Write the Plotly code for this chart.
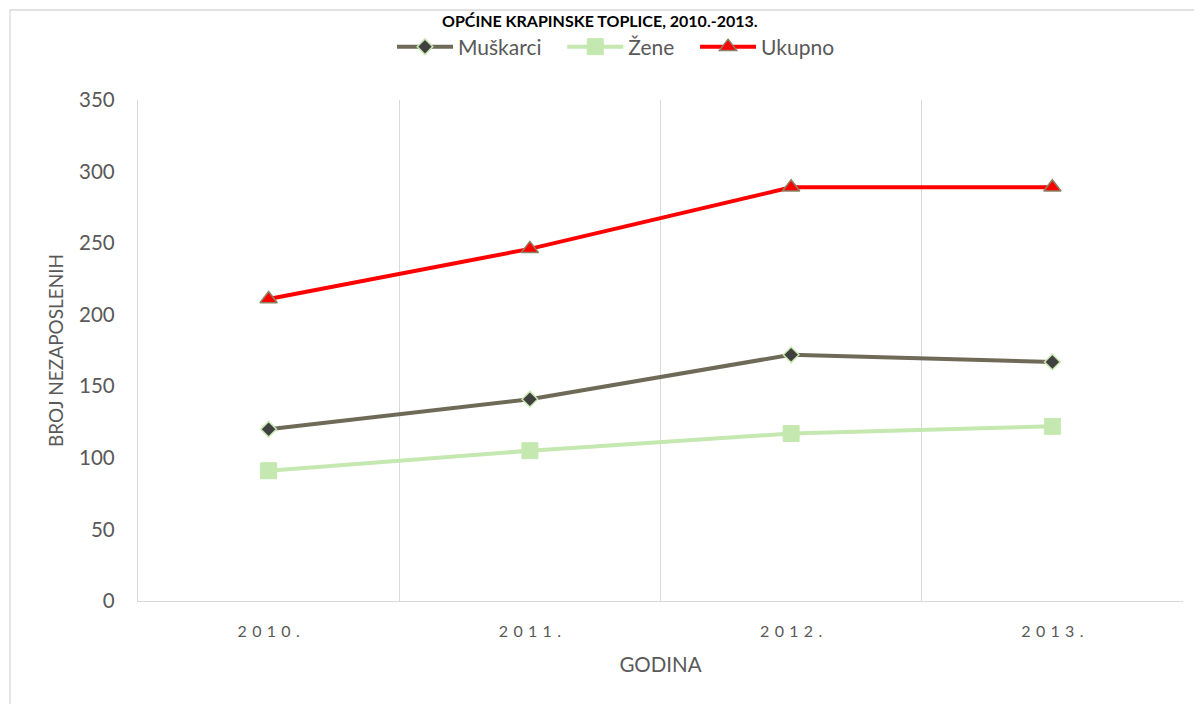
import plotly.graph_objects as go

godine = ["2010.", "2011.", "2012.", "2013."]
muskarci = [120, 141, 172, 167]
zene = [91, 105, 117, 122]
ukupno = [211, 246, 289, 289]
y_ticks = [0, 50, 100, 150, 200, 250, 300, 350]
naslov = "OPĆINE KRAPINSKE TOPLICE, 2010.-2013."

spaced = ["\u2004".join(list(g)) for g in godine]

fig = go.Figure()
fig.add_trace(go.Scatter(
    x=spaced, y=muskarci, name="Muškarci\u2003", mode="lines+markers",
    line=dict(color="#6f6a58", width=4),
    marker=dict(symbol="diamond", size=12, color="#404040",
                line=dict(color="#c6e7b0", width=1.5))))
fig.add_trace(go.Scatter(
    x=spaced, y=zene, name="Žene\u2003", mode="lines+markers",
    line=dict(color="#c5e8b0", width=4),
    marker=dict(symbol="square", size=16, color="#c5e8b0",
                line=dict(color="#c5e8b0", width=1))))
fig.add_trace(go.Scatter(
    x=spaced, y=ukupno, name="Ukupno", mode="lines+markers",
    line=dict(color="#ff0000", width=4),
    marker=dict(symbol="triangle-up", size=15, color="#ff0000",
                line=dict(color="#8c8265", width=1.5))))

OFF = 8  # page body margin
L, R, T, B = 138 - OFF, 19, 100 - OFF, 103
W, H = 1202 - OFF, 704 - OFF
pw, ph = W - L - R, H - T - B


def px(xp):
    return (xp - OFF - L) / pw


def py(yp):
    return (H - B - (yp - OFF)) / ph


fig.update_layout(
    width=W, height=H,
    margin=dict(l=L, r=R, t=T, b=B),
    paper_bgcolor="white", plot_bgcolor="white",
    font=dict(family="Lato, Open Sans, sans-serif", color="#595959"),
    showlegend=True,
    legend=dict(orientation="h", x=px(616), xanchor="center",
                y=py(47), yanchor="middle", font=dict(size=21, color="#595959"),
                itemwidth=56, traceorder="normal", bgcolor="rgba(0,0,0,0)"),
    xaxis=dict(type="category", tickson="boundaries", showgrid=True,
               gridcolor="#d9d9d9", gridwidth=1.3, showline=True,
               linecolor="#d9d9d9", linewidth=1.3, ticks="",
               tickfont=dict(size=16, color="#595959"), ticklabelstandoff=16,
               title=dict(text="GODINA", font=dict(size=20.5, color="#595959"), standoff=18),
               range=[-0.5, 3.5]),
    yaxis=dict(range=[0, 350], tickvals=y_ticks, showgrid=False, zeroline=False,
               showline=True, linecolor="#d9d9d9", linewidth=1.3, ticks="",
               tickfont=dict(size=20.5, color="#595959"), ticklabelstandoff=18,
               title=dict(text="BROJ NEZAPOSLENIH", font=dict(size=19, color="#595959"), standoff=10)),
)

fig.add_annotation(text="<b>" + naslov + "</b>",
                   xref="paper", yref="paper", x=px(600), y=py(20), xanchor="center",
                   yanchor="middle", showarrow=False,
                   font=dict(size=16, color="#000000", family="Lato, sans-serif"))

# chart frame
fig.add_shape(type="rect", xref="paper", yref="paper",
              x0=px(10), x1=px(1230), y0=py(730), y1=py(10),
              line=dict(color="#d9d9d9", width=1.3), layer="below")

fig.write_html("out.html")
